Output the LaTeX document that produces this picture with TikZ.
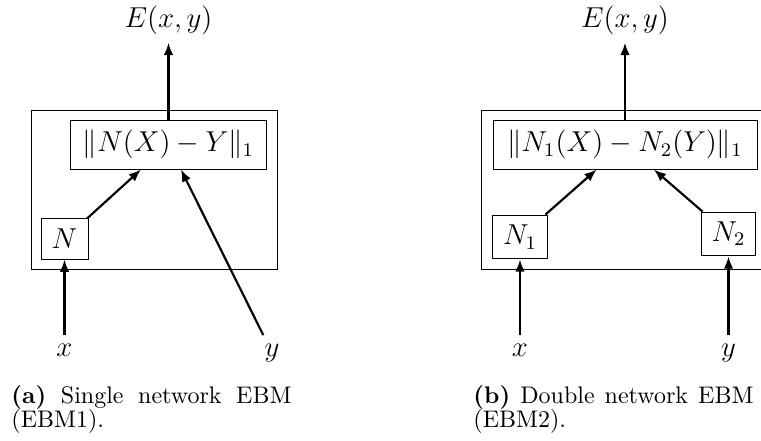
\documentclass[tikz,border=0pt]{standalone}
\usepackage{amsmath}
\usepackage{tikz}
\usetikzlibrary{arrows.meta,positioning}
\tikzset{
  netbox/.style={draw, thin, inner sep=3pt, font=\fontsize{12}{14}\selectfont},
  normbox/.style={netbox, minimum height=20.4pt},
  framebox/.style={draw, thin, minimum height=66.25pt},
  varlabel/.style={anchor=base, font=\fontsize{12}{14}\selectfont},
  arrow/.style={-{Latex[length=1.8mm, width=1.4mm]}, line width=0.9pt},
  subcap/.style={anchor=north west, inner sep=0pt, text width=116.7pt, align=justify, font=\fontsize{10}{10.2}\selectfont}
}

\begin{document}
\begin{tikzpicture}[x=0.4167pt, y=-0.4167pt, node distance=32pt]
  \useasboundingbox (0,0) rectangle (761,441);
  \clip (0,0) rectangle (761,441);

  % (a) single network
  \node[framebox, minimum width=102.5pt] (frameA) at (154,189.5) {};
  \node[normbox, minimum width=81.7pt] (normA) at (168.5,144.5) {$\lVert N(X)-Y\rVert_1$};
  \node[netbox, minimum width=19.6pt, minimum height=16.7pt] (netA) at (64.5,239) {$N$};
  \node[varlabel, above=of normA] (energyA) {$E(x,y)$};
  \node[varlabel] (inxA) at (64.5,356) {$x$};
  \node[varlabel] (inyA) at (272,356) {$y$};
  \node[subcap] (capA) at (11,385) {\textbf{(a)} Single network EBM (EBM1).};

  \draw[arrow] (inxA) -- (netA);
  \draw[arrow] (netA) -- (normA);
  \draw[arrow] (inyA) -- (normA);
  \draw[arrow] (normA) -- (energyA);

  % (b) double network
  \node[framebox, minimum width=119.2pt] (frameB) at (625,189.5) {};
  \node[normbox, minimum width=110pt] (normB) at (625,144.5) {$\lVert N_1(X)-N_2(Y)\rVert_1$};
  \node[netbox, minimum width=23.3pt, minimum height=18.3pt] (netB) at (520,237) {$N_1$};
  \node[netbox, minimum width=22.9pt, minimum height=18.3pt] (netC) at (728.5,234) {$N_2$};
  \node[varlabel, above=of normB] (energyB) {$E(x,y)$};
  \node[varlabel] (inxB) at (520,356) {$x$};
  \node[varlabel] (inyB) at (728.5,356) {$y$};
  \node[subcap] (capB) at (473,385) {\textbf{(b)} Double network EBM (EBM2).};

  \draw[arrow] (inxB) -- (netB);
  \draw[arrow] (inyB) -- (netC);
  \draw[arrow] (netB) -- (normB);
  \draw[arrow] (netC) -- (normB);
  \draw[arrow] (normB) -- (energyB);
\end{tikzpicture}
\end{document}
